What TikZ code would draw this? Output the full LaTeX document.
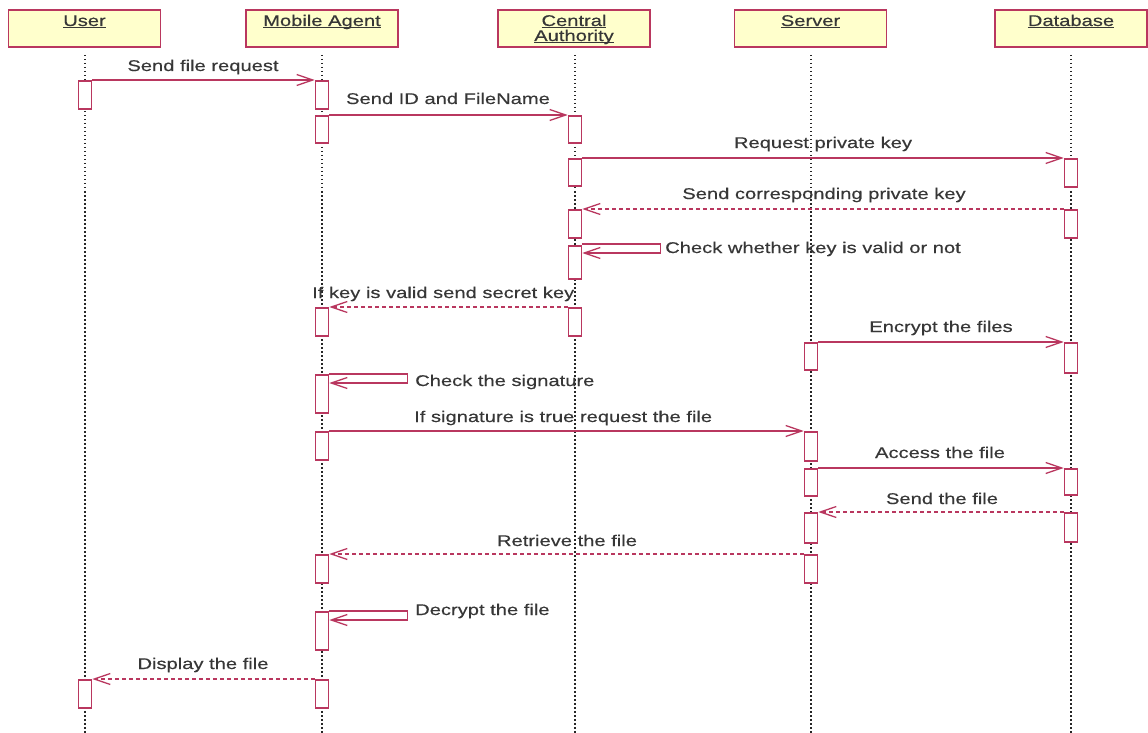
\documentclass[tikz,border=0pt]{standalone}
\usepackage{fontspec}
\setmainfont[FakeStretch=1.3,FakeBold=0.4]{Liberation Sans}
\usetikzlibrary{arrows.meta}
\definecolor{umlred}{RGB}{185,55,95}
\definecolor{boxfill}{RGB}{255,255,204}
\definecolor{txt}{RGB}{55,55,55}
\newcommand\hul[1]{\underline{\smash{#1}}}
\begin{document}
\begin{tikzpicture}[x=1pt,y=-1pt,
  head/.style={draw=umlred, fill=boxfill, line width=1.8pt, minimum width=152pt, minimum height=37pt, inner sep=0pt, anchor=north},
  life/.style={draw=black!85, line width=1.9pt, dash pattern=on 1.7pt off 2.3pt},
  bar/.style={draw=umlred, fill=white, line width=1.6pt, minimum width=13pt, inner sep=0pt, anchor=north},
  msg/.style={draw=umlred, line width=1.4pt, -{Straight Barb[length=16pt,width=11pt,line width=1.3pt]}},
  ret/.style={msg, dash pattern=on 4pt off 3pt},
  lbl/.style={font=\fontsize{15.5}{18}\selectfont, text=txt, inner sep=0pt, anchor=base},
  lbll/.style={lbl, anchor=base west}
]
\useasboundingbox (0,0) rectangle (1148,733);

% headers
\node[head] (hU) at (84.5,9) {};
\node[head] (hM) at (322,9) {};
\node[head] (hC) at (574,9) {};
\node[head] (hS) at (810.5,9) {};
\node[head] (hD) at (1071,9) {};
\node[lbl] (nU) at (84.5,26) {\hul{User}};
\node[lbl] (nM) at (322,26) {\hul{Mobile Agent}};
\node[lbl] (nC1) at (574,26) {\hul{Central}};
\node[lbl] (nC2) at (574,41) {\hul{Authority}};
\node[lbl] (nS) at (810.5,26) {\hul{Server}};
\node[lbl] (nD) at (1071,26) {\hul{Database}};

% lifeline ends
\coordinate (eU) at (85,735);
\coordinate (eM) at (322,735);
\coordinate (eC) at (575,735);
\coordinate (eS) at (811,735);
\coordinate (eD) at (1071,735);
\draw[life] ([yshift=-7pt]hU.south -| eU) -- (eU);
\draw[life] ([yshift=-7pt]hM.south -| eM) -- (eM);
\draw[life] ([yshift=-7pt]hC.south -| eC) -- (eC);
\draw[life] ([yshift=-7pt]hS.south -| eS) -- (eS);
\draw[life] ([yshift=-7pt]hD.south -| eD) -- (eD);

% activation bars
\node[bar, minimum height=28pt] (u1) at (85,80) {};
\node[bar, minimum height=28pt] (u2) at (85,679) {};

\node[bar, minimum height=28pt] (m1) at (322,80) {};
\node[bar, minimum height=27pt] (m2) at (322,115) {};
\node[bar, minimum height=28pt] (m3) at (322,307) {};
\node[bar, minimum height=38pt] (m4) at (322,374) {};
\node[bar, minimum height=28pt] (m5) at (322,431) {};
\node[bar, minimum height=28pt] (m6) at (322,554) {};
\node[bar, minimum height=38pt] (m7) at (322,611) {};
\node[bar, minimum height=28pt] (m8) at (322,679) {};

\node[bar, minimum height=27pt] (c1) at (575,115) {};
\node[bar, minimum height=27pt] (c2) at (575,158) {};
\node[bar, minimum height=28pt] (c3) at (575,209) {};
\node[bar, minimum height=33pt] (c4) at (575,245) {};
\node[bar, minimum height=28pt] (c5) at (575,307) {};

\node[bar, minimum height=27pt] (s1) at (811,342) {};
\node[bar, minimum height=29pt] (s2) at (811,431) {};
\node[bar, minimum height=27pt] (s3) at (811,468) {};
\node[bar, minimum height=30pt] (s4) at (811,512) {};
\node[bar, minimum height=28pt] (s5) at (811,554) {};

\node[bar, minimum height=28pt] (d1) at (1071,158) {};
\node[bar, minimum height=28pt] (d2) at (1071,209) {};
\node[bar, minimum height=30pt] (d3) at (1071,342) {};
\node[bar, minimum height=26pt] (d4) at (1071,468) {};
\node[bar, minimum height=29pt] (d5) at (1071,512) {};

% messages
\draw[msg] (u1.north east) -- (m1.north west);
\draw[msg] (m2.north east) -- (c1.north west);
\draw[msg] (c2.north east) -- (d1.north west);
\draw[ret] (d2.north west) -- (c3.north east);
\draw[msg] ([yshift=1pt]c4.north east) -- ++(78,0) -- ++(0,9) -- ([yshift=-8pt]c4.north east);
\draw[ret] (c5.north west) -- (m3.north east);
\draw[msg] (s1.north east) -- (d3.north west);
\draw[msg] (m4.north east) -- ++(78,0) -- ++(0,9) -- ([yshift=-9pt]m4.north east);
\draw[msg] (m5.north east) -- (s2.north west);
\draw[msg] (s3.north east) -- (d4.north west);
\draw[ret] (d5.north west) -- (s4.north east);
\draw[ret] (s5.north west) -- (m6.north east);
\draw[msg] (m7.north east) -- ++(78,0) -- ++(0,9) -- ([yshift=-9pt]m7.north east);
\draw[ret] (m8.north west) -- (u2.north east);

% labels
\node[lbl] (t1) at (203,71) {Send file request};
\node[lbl] (t2) at (448,104) {Send ID and FileName};
\node[lbl] (t3) at (823,148) {Request private key};
\node[lbl] (t4) at (824,199) {Send corresponding private key};
\node[lbll] (t5) at (665,253) {Check whether key is valid or not};
\node[lbll] (t6) at (312,298) {If key is valid send secret key};
\node[lbl] (t7) at (941,332) {Encrypt the files};
\node[lbll] (t8) at (415,386) {Check the signature};
\node[lbll] (t9) at (414,422) {If signature is true request the file};
\node[lbl] (t10) at (940,458) {Access the file};
\node[lbl] (t11) at (942,504) {Send the file};
\node[lbl] (t12) at (567,546) {Retrieve the file};
\node[lbll] (t13) at (415,615) {Decrypt the file};
\node[lbl] (t14) at (203,669) {Display the file};
\end{tikzpicture}
\end{document}
